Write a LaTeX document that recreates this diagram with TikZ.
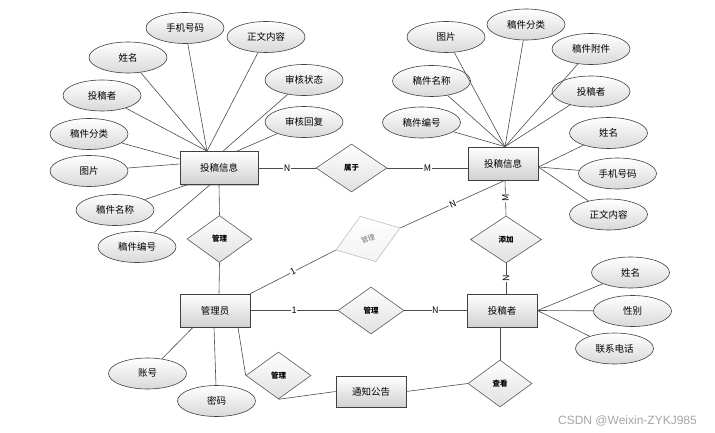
\documentclass[tikz,border=0pt]{standalone}
\usepackage{fontspec}
\newfontfamily\cjk{Noto Sans CJK SC}
\newfontfamily\wmfont{Liberation Sans}
\usetikzlibrary{shapes.geometric,shadows}
\begin{document}
\begin{tikzpicture}[x=1pt,y=-1pt,
  attr/.style={ellipse,draw=black!75,line width=0.6pt,top color=white,bottom color=black!15,minimum width=78pt,minimum height=31pt,inner sep=0pt,font=\cjk\fontsize{9.5}{11}\selectfont},
  ent/.style={rectangle,draw=black!75,line width=0.7pt,top color=white,bottom color=black!18,minimum width=70pt,minimum height=33pt,inner sep=0pt,font=\cjk\fontsize{9.5}{11}\selectfont,drop shadow={shadow xshift=1pt,shadow yshift=-1pt,fill=black!35,opacity=0.6}},
  rel/.style={diamond,draw=black!65,line width=0.6pt,top color=white,bottom color=black!12,minimum width=65pt,minimum height=47pt,inner sep=0pt,font=\cjk\fontsize{7.5}{8}\selectfont\bfseries},
  lnk/.style={draw=black!70,line width=0.6pt},
  card/.style={font=\cjk\fontsize{9}{10}\selectfont,fill=white,inner sep=0.6pt}
]
\useasboundingbox[fill=white] (0,0) rectangle (715,433);

% ---- left 投稿信息 ----
\node[ent,minimum width=78pt] (le) at (219,168) {投稿信息};
\node[attr] (la1) at (128,57.5) {姓名};
\node[attr] (la2) at (185,28) {手机号码};
\node[attr] (la3) at (266,37) {正文内容};
\node[attr] (la4) at (304,80) {审核状态};
\node[attr] (la5) at (102,95.5) {投稿者};
\node[attr] (la6) at (304,122) {审核回复};
\node[attr] (la7) at (89,134) {稿件分类};
\node[attr] (la8) at (89,171) {图片};
\node[attr] (la9) at (115,210) {稿件名称};
\node[attr] (la10) at (137,247) {稿件编号};
\node[rel] (m1) at (219.5,239) {管理};
\node[rel,minimum width=71pt,minimum height=48pt] (bel) at (351.5,168) {属于};

% ---- right 投稿信息 ----
\node[ent] (re) at (503,163.5) {投稿信息};
\node[attr] (ra1) at (446,37) {图片};
\node[attr] (ra2) at (526,24.5) {稿件分类};
\node[attr] (ra3) at (591,49) {稿件附件};
\node[attr] (ra4) at (431.5,81) {稿件名称};
\node[attr] (ra5) at (591,91.5) {投稿者};
\node[attr] (ra6) at (421.5,122.5) {稿件编号};
\node[attr] (ra7) at (608.5,133) {姓名};
\node[attr] (ra8) at (617.5,173.5) {手机号码};
\node[attr] (ra9) at (608.5,214.5) {正文内容};
\node[rel,minimum width=71pt] (add) at (506,239.5) {添加};
\node[rel,rotate=19,draw=black!25,text=black!55,bottom color=black!5,minimum width=68pt,minimum height=48pt,font=\cjk\fontsize{7}{8}\selectfont] (gm) at (368,239) {管理};

% ---- bottom ----
\node[ent] (ad) at (215,310.5) {管理员};
\node[rel,minimum width=66pt] (m2) at (371,310.5) {管理};
\node[ent] (te) at (502,310.5) {投稿者};
\node[attr] (ta1) at (630.5,272.5) {姓名};
\node[attr] (ta2) at (632.5,311) {性别};
\node[attr] (ta3) at (614.5,348.5) {联系电话};
\node[attr] (aa1) at (147.5,373.5) {账号};
\node[attr] (aa2) at (216.5,401) {密码};
\node[rel] (m3) at (278.5,375.5) {管理};
\node[ent,minimum height=31pt] (nt) at (371,391.5) {通知公告};
\node[rel,minimum width=64pt] (ck) at (500,383.5) {查看};

\node[font=\wmfont\fontsize{12}{12}\selectfont,text=black!35,anchor=east,inner sep=0pt] (wm) at (697,421) {CSDN @Weixin-ZYKJ985};

% ---- anchor coordinates ----
\coordinate (lA) at ([xshift=-12pt]le.north);
\coordinate (lB) at ([xshift=4pt]le.north);
\coordinate (lC) at ([xshift=18pt]le.north);
\coordinate (lW1) at ([yshift=9pt]le.west);
\coordinate (lW2) at ([yshift=4pt]le.west);
\coordinate (lS1) at ([xshift=-32pt]le.south);
\coordinate (lS2) at ([xshift=-9pt]le.south);
\coordinate (rT) at ([xshift=2pt]re.north);
\coordinate (rR) at ([yshift=-3.5pt]re.east);
\coordinate (rB) at ([xshift=2pt]re.south);
\coordinate (rL) at ([yshift=-4.5pt]re.west);
\coordinate (tT) at ([xshift=4pt]te.north);
\coordinate (tB) at ([xshift=-2pt]te.south);
\coordinate (aT) at ([xshift=4pt]ad.north);
\coordinate (aS1) at ([xshift=-22pt]ad.south);
\coordinate (aS2) at ([xshift=-1pt]ad.south);
\coordinate (aS3) at ([xshift=23pt]ad.south);

% ---- connectors, left entity ----
\draw[lnk] (la1) -- (lA);
\draw[lnk] (la2) -- (lA);
\draw[lnk] (la3) -- (lA);
\draw[lnk] (la5) -- (lA);
\draw[lnk] (la4) -- (lB);
\draw[lnk] (la6) -- (lC);
\draw[lnk] (la7) -- (lW1);
\draw[lnk] (la8) -- (lW2);
\draw[lnk] (la9) -- (lS1);
\draw[lnk] (la10) -- (lS2);
\draw[lnk] (le.south) -- (m1.north);
\draw[lnk] (le.east) -- node[card]{N} (bel.west);
\draw[lnk] (bel.east) -- node[card]{M} (rL);

% ---- connectors, right entity ----
\foreach \n in {ra1,ra2,ra3,ra4,ra5,ra6} \draw[lnk] (\n) -- (rT);
\foreach \n in {ra7,ra8,ra9} \draw[lnk] (\n) -- (rR);
\draw[lnk] (rB) -- node[card,rotate=90]{M} (add.north);
\draw[lnk] (rB) -- node[card,sloped]{N} (gm.east);
\draw[lnk] (add.south) -- node[card,rotate=90]{N} (tT);

% ---- connectors, bottom ----
\draw[lnk] (m1.south) -- (aT);
\draw[lnk] (ad.north east) -- node[card,sloped]{1} (gm.west);
\draw[lnk] (ad.east) -- node[card]{1} (m2.west);
\draw[lnk] (m2.east) -- node[card]{N} (te.west);
\foreach \n in {ta1,ta2,ta3} \draw[lnk] (\n) -- (te.east);
\draw[lnk] (aa1) -- (aS1);
\draw[lnk] (aa2) -- (aS2);
\draw[lnk] (aS3) -- (m3.west);
\draw[lnk] (m3.south) -- (nt.west);
\draw[lnk] (nt.east) -- (ck.west);
\draw[lnk] (tB) -- (ck.north);
\end{tikzpicture}
\end{document}
